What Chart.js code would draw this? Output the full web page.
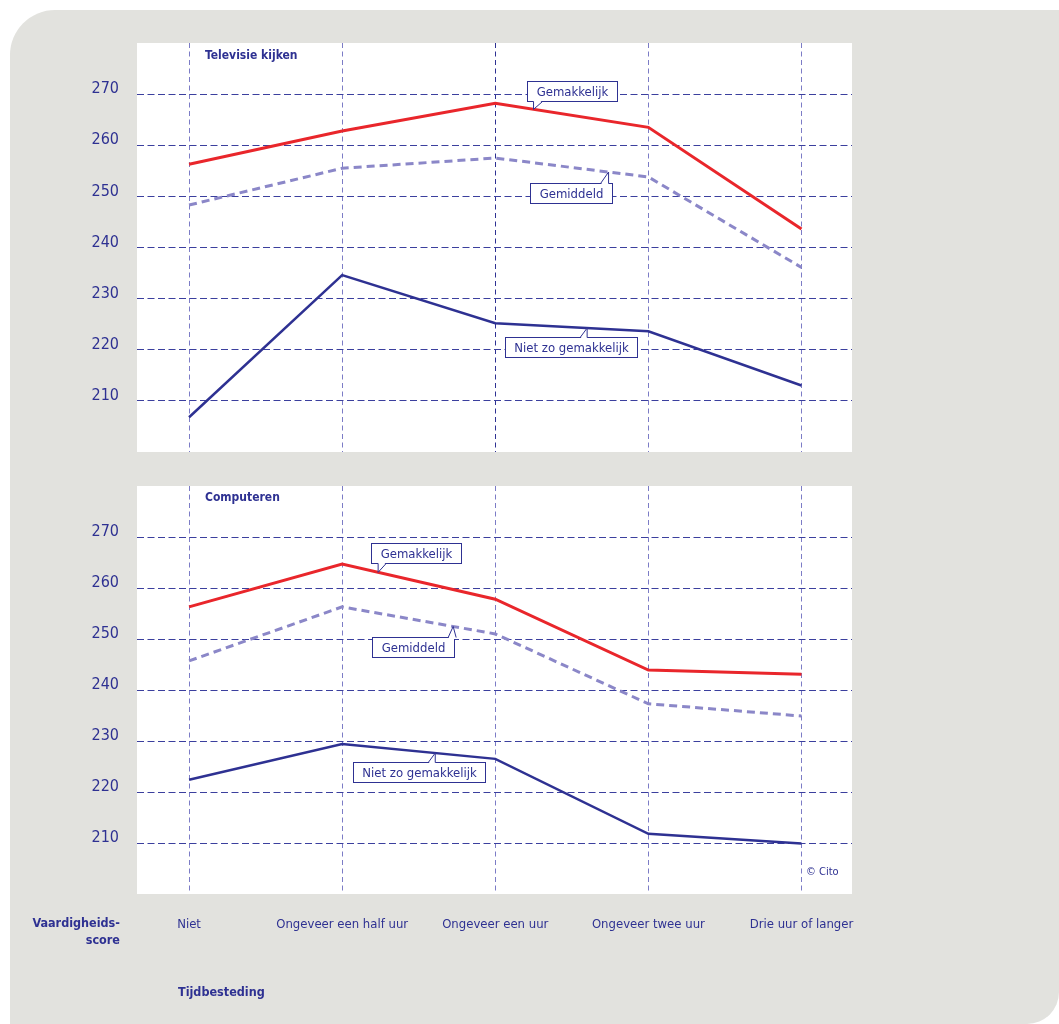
<!DOCTYPE html>
<html>
<head>
<meta charset="utf-8">
<script src="https://cdn.jsdelivr.net/npm/chart.js@4.4.0/dist/chart.umd.min.js"></script>
<style>
  body { margin: 0; background: #fff; font-family: "Liberation Sans Narrow", "DejaVu Sans Condensed", sans-serif; color: #2e3192; }
  #wrap { position: relative; width: 1059px; height: 1024px; overflow: hidden; }
  #panel { position: absolute; left: 10px; top: 10px; width: 1049px; height: 1014px; background: #e2e2de; border-radius: 45px 0 32px 0; }
  canvas { position: absolute; left: 0; }
  #cTop { top: 0; }
  #cBottom { top: 470px; }
  .lbl { position: absolute; font-weight: bold; font-size: 12.5px; line-height: 17px; }
  #yName { left: 0; width: 120px; text-align: right; top: 914px; }
  #xName { left: 178px; top: 983px; }
  #credit { position: absolute; left: 806px; top: 865px; font-size: 11px; }
</style>
</head>
<body>
<div id="wrap">
  <div id="panel"></div>
  <canvas id="cTop" width="1059" height="470"></canvas>
  <canvas id="cBottom" width="1059" height="554"></canvas>
  <div class="lbl" id="yName">Vaardigheids-<br>score</div>
  <div class="lbl" id="xName">Tijdbesteding</div>
  <div id="credit">© Cito</div>
</div>
<script>
const categories = ["Niet", "Ongeveer een half uur", "Ongeveer een uur", "Ongeveer twee uur", "Drie uur of langer"];
const yTicks = [210, 220, 230, 240, 250, 260, 270];

// Televisie kijken
const tvGemakkelijk = [256.3, 262.8, 268.2, 263.5, 243.6];
const tvGemiddeld = [248.3, 255.5, 257.5, 253.8, 236.1];
const tvNietZo = [206.8, 234.6, 225.2, 223.6, 213.0];

// Computeren
const pcGemakkelijk = [256.3, 264.7, 257.8, 243.9, 243.1];
const pcGemiddeld = [245.7, 256.3, 251.0, 237.3, 234.9];
const pcNietZo = [222.4, 229.4, 226.5, 211.8, 209.9];

const NAVY = "#2e3192";
const RED = "#e9262b";
const PURPLE = "#8b87c8";
const VLINE = "#7c7cc6";
const FONT = '"Liberation Sans Narrow", "DejaVu Sans Condensed", sans-serif';

// callout labels: which series, where along x, box offset from that point
const tvCallouts = [
    { text: "Gemakkelijk", series: 0, at: 2.25, dx: 38, dy: -18, base: [0, 9] },
    { text: "Gemiddeld", series: 1, at: 2.74, dx: -38, dy: 21, base: [-8, 0] },
    { text: "Niet zo gemakkelijk", series: 2, at: 2.6, dx: -16, dy: 19, base: [-7, 0] },
];
const pcCallouts = [
    { text: "Gemakkelijk", series: 0, at: 1.235, dx: 38, dy: -19, base: [0, 8] },
    { text: "Gemiddeld", series: 1, at: 1.725, dx: -40, dy: 21, base: [-5, 3] },
    { text: "Niet zo gemakkelijk", series: 2, at: 1.608, dx: -16, dy: 19, base: [-7, 0] },
];

const toPoints = vals => vals.map((v, i) => ({ x: i, y: v }));

const panelPlugin = {
    id: "panel",
    beforeDraw(chart) {
        const a = chart.chartArea, ctx = chart.ctx;
        ctx.save();
        ctx.fillStyle = "#ffffff";
        ctx.fillRect(a.left, a.top, a.right - a.left, a.bottom - a.top);
        ctx.restore();
    },
    afterDatasetsDraw(chart) {
        const o = chart.options.plugins.panel;
        const a = chart.chartArea, ctx = chart.ctx;
        const xs = chart.scales.x, ys = chart.scales.y;
        ctx.save();
        ctx.fillStyle = NAVY;
        ctx.font = "bold 12px " + FONT;
        ctx.textBaseline = "middle";
        ctx.fillText(o.title, a.left + 68, a.top + o.titleY);

        ctx.font = "13px " + FONT;
        ctx.lineWidth = 1;
        ctx.strokeStyle = NAVY;
        o.callouts.forEach(c => {
            const vals = chart.data.datasets[c.series].data;
            const i = Math.floor(c.at), f = c.at - i;
            const v = vals[i].y + f * (vals[i + 1].y - vals[i].y);
            const ax = xs.getPixelForValue(c.at), ay = ys.getPixelForValue(v);
            const w = Math.round(ctx.measureText(c.text).width + 18), h = 20;
            const cx = ax + c.dx, cy = ay + c.dy;
            const x0 = Math.round(cx - w / 2) + 0.5, y0 = Math.round(cy - h / 2) + 0.5;
            ctx.fillStyle = "#ffffff";
            ctx.fillRect(x0, y0, w, h);
            ctx.strokeRect(x0, y0, w, h);
            // pointer
            const edge = c.dy < 0 ? y0 + h : y0;
            const inset = c.dy < 0 ? -1.5 : 1.5;
            const p0 = ax + c.base[0], p1 = ax + c.base[1];
            ctx.beginPath();
            ctx.moveTo(p0, edge + inset);
            ctx.lineTo(ax, ay);
            ctx.lineTo(p1, edge + inset);
            ctx.closePath();
            ctx.fill();
            ctx.beginPath();
            ctx.moveTo(p0, edge);
            ctx.lineTo(ax, ay);
            ctx.lineTo(p1, edge);
            ctx.stroke();
            ctx.fillStyle = NAVY;
            ctx.textAlign = "center";
            ctx.fillText(c.text, x0 + w / 2, y0 + h / 2 + 1);
            ctx.textAlign = "left";
        });
        ctx.restore();
    }
};

function buildChart(id, title, gem, mid, low, callouts, opt) {
    return new Chart(document.getElementById(id), {
        type: "line",
        data: {
            datasets: [
                { label: "Gemakkelijk", data: toPoints(gem), borderColor: RED, borderWidth: 3 },
                { label: "Gemiddeld", data: toPoints(mid), borderColor: PURPLE, borderWidth: 3, borderDash: [8, 5] },
                { label: "Niet zo gemakkelijk", data: toPoints(low), borderColor: NAVY, borderWidth: 2.5 },
            ]
        },
        options: {
            responsive: false,
            animation: false,
            layout: { padding: { top: opt.top, right: 207, bottom: opt.bottom, left: 0 } },
            elements: { point: { radius: 0 }, line: { tension: 0 } },
            plugins: {
                legend: { display: false },
                tooltip: { enabled: false },
                panel: { title: title, titleY: opt.titleY, callouts: callouts }
            },
            scales: {
                x: {
                    type: "linear",
                    min: -0.34,
                    max: 4.33,
                    afterBuildTicks: s => { s.ticks = categories.map((c, i) => ({ value: i })); },
                    afterFit: s => { s.height = opt.xHeight; s.paddingLeft = 0; s.paddingRight = 0; },
                    ticks: {
                        display: opt.showX,
                        callback: v => categories[v],
                        color: NAVY,
                        font: { family: FONT, size: 13 },
                        padding: 23,
                        maxRotation: 0,
                        autoSkip: false
                    },
                    grid: {
                        drawTicks: false,
                        lineWidth: 1,
                        color: c => (opt.darkMid && c.index === 2) ? NAVY : VLINE
                    },
                    border: { display: false, dash: [5, 3.5] }
                },
                y: {
                    min: 200,
                    max: 280,
                    afterBuildTicks: s => { s.ticks = yTicks.map(v => ({ value: v })); },
                    afterFit: s => { s.width = 137; s.paddingTop = 0; s.paddingBottom = 0; },
                    ticks: {
                        color: NAVY,
                        font: { family: FONT, size: 16 },
                        padding: 18,
                        labelOffset: -5
                    },
                    grid: { drawTicks: false, lineWidth: 1, color: "#3b3f9e" },
                    border: { display: false, dash: [7, 3.5] }
                }
            }
        },
        plugins: [panelPlugin]
    });
}

buildChart("cTop", "Televisie kijken", tvGemakkelijk, tvGemiddeld, tvNietZo, tvCallouts,
    { top: 43, bottom: 18, xHeight: 0, showX: false, darkMid: true, titleY: 13 });
buildChart("cBottom", "Computeren", pcGemakkelijk, pcGemiddeld, pcNietZo, pcCallouts,
    { top: 16, bottom: 0, xHeight: 130, showX: true, darkMid: false, titleY: 12 });
</script>
</body>
</html>
